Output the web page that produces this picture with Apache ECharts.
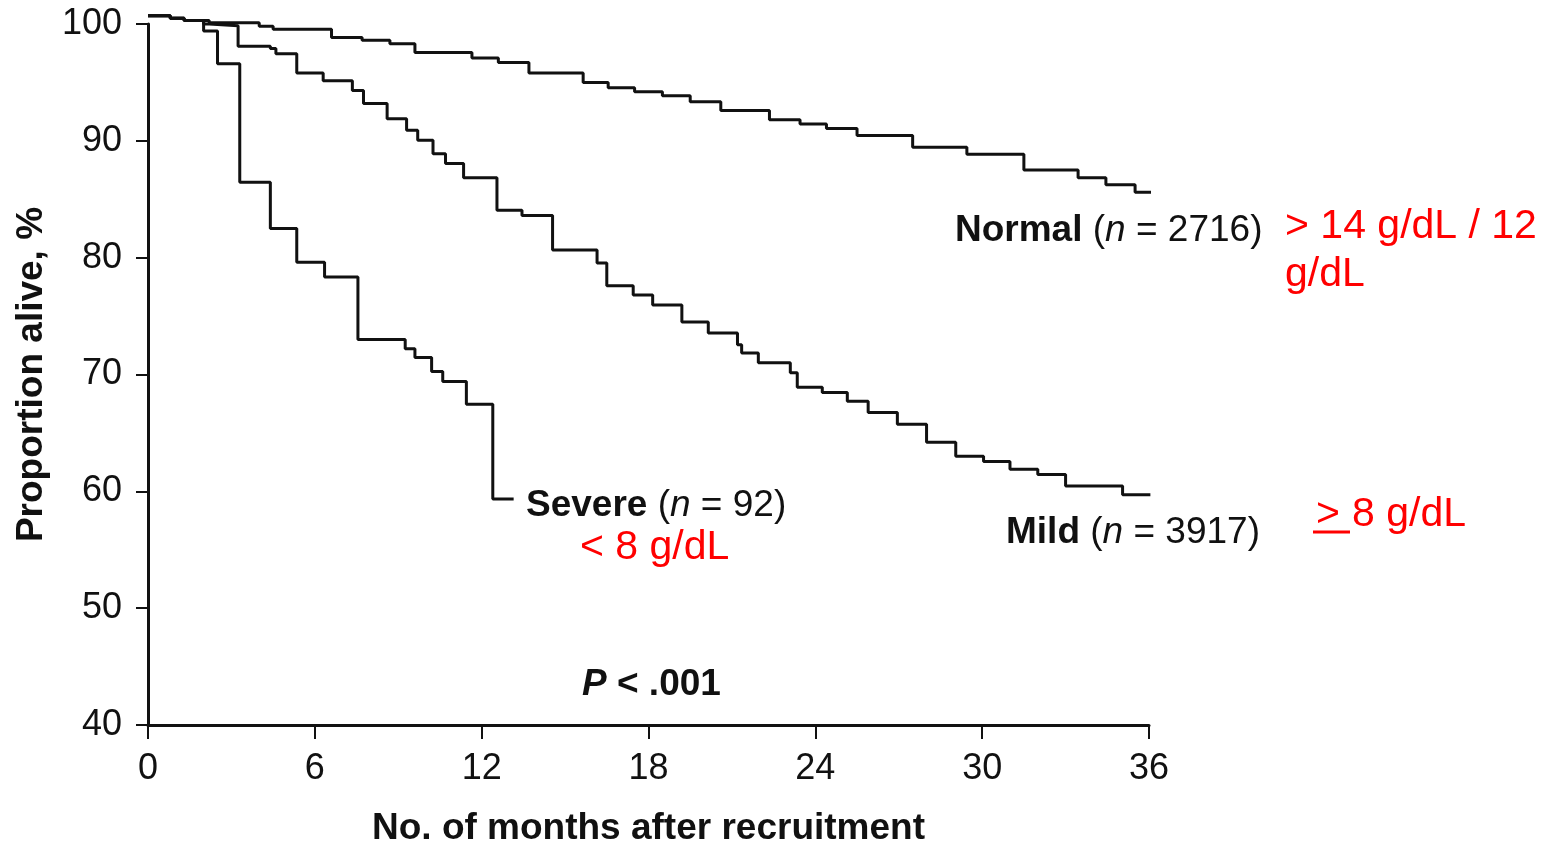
<!DOCTYPE html>
<html>
<head>
<meta charset="utf-8">
<script src="https://cdn.jsdelivr.net/npm/echarts@6/dist/echarts.min.js"></script>
<style>
html,body{margin:0;padding:0;background:#fff;}
#chart{width:1563px;height:847px;}
</style>
</head>
<body>
<div id="chart"></div>
<script>
// Kaplan-Meier survival estimates: [month, % alive]
var normalData = [[0,100.7],[0.8,100.5],[1.3,100.3],[2.2,100.1],[4.0,99.8],[4.5,99.55],[6.6,98.85],[7.7,98.6],[8.7,98.3],[9.6,97.55],[11.65,97.1],[12.6,96.7],[13.7,95.8],[15.65,95.0],[16.55,94.55],[17.5,94.2],[18.5,93.85],[19.5,93.35],[20.6,92.6],[22.35,91.8],[23.45,91.45],[24.4,91.05],[25.5,90.45],[27.5,89.45],[29.45,88.85],[31.5,87.5],[33.45,86.85],[34.45,86.25],[35.5,85.6],[36.2,85.6]];
var mildData = [[0,100.7],[0.8,100.5],[1.3,100.3],[2.0,100.0],[2.2,99.85],[3.24,98.1],[4.4,97.9],[4.6,97.45],[5.35,95.8],[6.3,95.15],[7.35,94.3],[7.75,93.2],[8.6,91.9],[9.3,90.9],[9.7,90.05],[10.25,88.9],[10.7,88.05],[11.35,86.85],[12.55,84.05],[13.45,83.6],[14.55,80.65],[16.15,79.55],[16.5,77.6],[17.45,76.8],[18.15,75.95],[19.2,74.5],[20.15,73.55],[21.2,72.55],[21.35,71.85],[21.95,71.0],[23.1,70.15],[23.35,68.9],[24.25,68.45],[25.15,67.7],[25.9,66.75],[26.95,65.75],[28.0,64.2],[29.05,63.0],[30.05,62.55],[31.0,61.9],[32.0,61.45],[33.0,60.45],[35.05,59.7],[36.05,59.7]];
var severeData = [[0,100.7],[0.8,100.5],[1.3,100.3],[2.0,99.4],[2.5,96.6],[3.3,86.45],[4.4,82.5],[5.35,79.6],[6.35,78.35],[7.55,73.0],[9.25,72.2],[9.6,71.45],[10.2,70.25],[10.6,69.4],[11.45,67.45],[12.4,59.35],[13.15,59.35]];

var xMin = 0, xMax = 36, xStep = 6;
var yMin = 40, yMax = 100, yStep = 10;

var FONT = '"Liberation Sans", Arial, Helvetica, sans-serif';
var INK = '#111';
var RED = '#ff0000';

var chart = echarts.init(document.getElementById('chart'), null, {renderer:'canvas'});

function km(name, data){
  return {
    name: name, type: 'line', step: 'end', data: data,
    showSymbol: false, symbol: 'none', clip: false, animation: false,
    lineStyle: {color: INK, width: 3}
  };
}

var blackRich = {
  b: {fontFamily: FONT, fontSize: 37, fontWeight: 'bold', fill: INK, color: INK},
  r: {fontFamily: FONT, fontSize: 37, fill: INK, color: INK},
  i: {fontFamily: FONT, fontSize: 37, fontStyle: 'italic', fill: INK, color: INK},
  bi: {fontFamily: FONT, fontSize: 37, fontStyle: 'italic', fontWeight: 'bold', fill: INK, color: INK}
};

function richText(x, y, text){
  return {type:'text', left: x, top: y - 16, z: 100,
    style: {text: text, rich: blackRich, fontFamily: FONT, fontSize: 37, fill: INK}};
}
function redText(x, y, text){
  return {type:'text', left: x, top: y - 20, z: 100,
    style: {text: text, fontFamily: FONT, fontSize: 41, fill: RED}};
}

var option = {
  backgroundColor: '#fff',
  animation: false,
  grid: {left: 148, right: 414, top: 24, bottom: 122, containLabel: false, outerBoundsMode: 'none'},
  xAxis: {
    type: 'value', min: xMin, max: xMax, interval: xStep,
    name: 'No. of months after recruitment', nameLocation: 'middle', nameGap: 85,
    nameTextStyle: {fontFamily: FONT, fontSize: 37, fontWeight: 'bold', color: INK},
    axisLine: {show: true, onZero: false, lineStyle: {color: INK, width: 3}},
    axisTick: {show: true, inside: false, length: 14, lineStyle: {color: INK, width: 2}},
    axisLabel: {fontFamily: FONT, fontSize: 36, color: INK, margin: 26},
    splitLine: {show: false}
  },
  yAxis: {
    type: 'value', min: yMin, max: yMax, interval: yStep,
    name: 'Proportion alive, %', nameLocation: 'middle', nameGap: 98,
    nameTextStyle: {fontFamily: FONT, fontSize: 37, fontWeight: 'bold', color: INK},
    axisLine: {show: true, onZero: false, lineStyle: {color: INK, width: 3}},
    axisTick: {show: true, inside: false, length: 12, lineStyle: {color: INK, width: 2}},
    axisLabel: {fontFamily: FONT, fontSize: 36, color: INK, margin: 26},
    splitLine: {show: false}
  },
  series: [km('Normal', normalData), km('Mild', mildData), km('Severe', severeData)],
  graphic: [
    richText(955, 228, '{b|Normal} {r|(}{i|n}{r| = 2716)}'),
    richText(526, 503, '{b|Severe} {r|(}{i|n}{r| = 92)}'),
    richText(1006, 530, '{b|Mild} {r|(}{i|n}{r| = 3917)}'),
    richText(582, 682, '{bi|P}{b| < .001}'),
    redText(1285, 226, '> 14 g/dL / 12'),
    redText(1285, 274, 'g/dL'),
    redText(580, 547, '< 8 g/dL'),
    redText(1316, 514, '>'),
    redText(1352, 514, '8 g/dL'),
    {type:'line', z: 100, shape: {x1: 1313, y1: 532, x2: 1350, y2: 532}, style: {stroke: RED, lineWidth: 3}}
  ]
};
chart.setOption(option);
</script>
</body>
</html>
